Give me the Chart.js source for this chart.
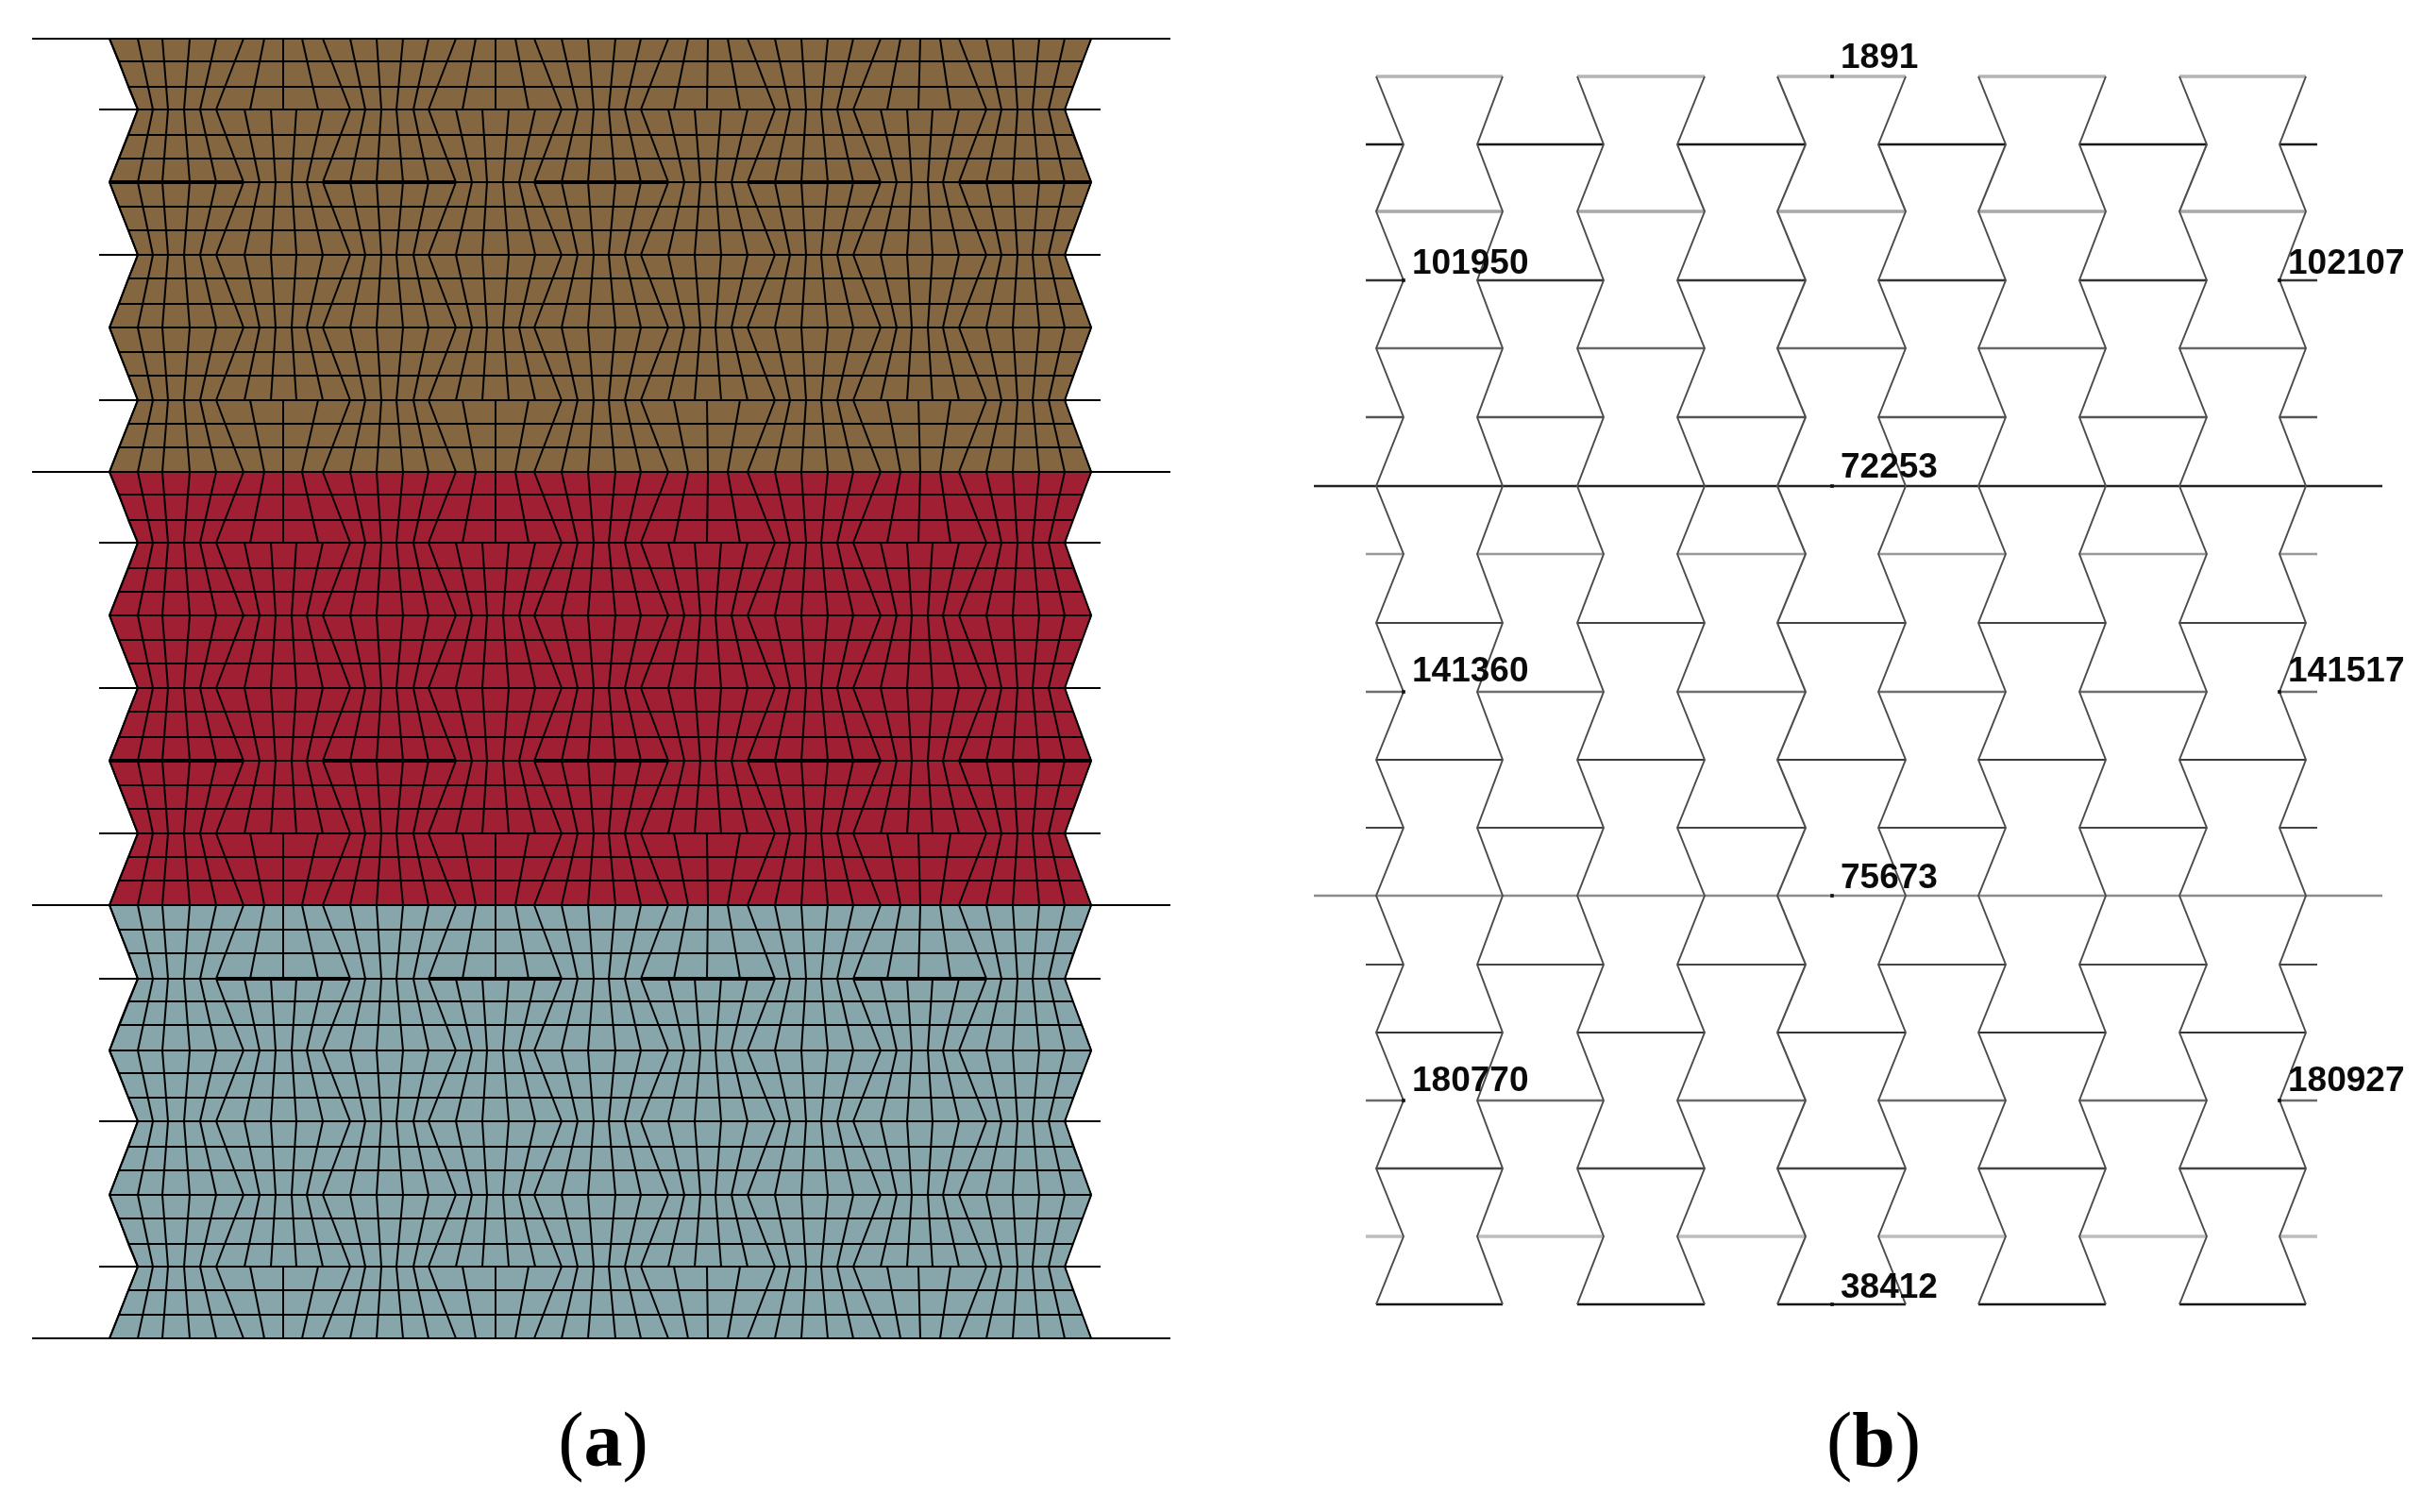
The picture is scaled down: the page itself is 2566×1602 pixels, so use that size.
<!DOCTYPE html>
<html><head><meta charset="utf-8">
<style>html,body{margin:0;padding:0;background:#fff}canvas{display:block}</style>
<script src="https://cdn.jsdelivr.net/npm/chart.js@4/dist/chart.umd.min.js"></script>
</head><body><canvas id="c" width="2566" height="1602" style="width:2566px;height:1602px"></canvas>
<script>
// ---- panel (a) values
const brownRows=[41,65,92,116,143,168,193,219,244,270,295,322,347,373,398,424,449,474,500];
const redRows=[500,524,551,575,602,627,652,678,703,729,754,781,806,832,857,883,908,933,959];
const tealRows=[959,985,1010,1037,1061,1086,1113,1137,1163,1188,1215,1240,1266,1291,1318,1342,1367,1393,1418];
const outlineLeft=[116,126,136,146,136,126,116,126,136,146,136,126,116,126,136,146,136,126,116];
const outlineRight=[1156,1146,1136,1128,1136,1146,1156,1146,1136,1128,1136,1146,1156,1146,1136,1128,1136,1146,1156];
const wideEdge=[116,146,172,201,229,258,275,292,309,325,342,371,399,427,454,483,500,516,533,550,566,595,623,652,679,708,725,742,758,775,792,821,849,877,904,933,950,966,983,999,1016,1045,1073,1101,1128,1156];
const narrowEdge=[146,162,178,195,212,229,259,287,314,342,371,387,404,420,438,454,483,511,539,567,595,612,629,645,662,679,708,736,764,792,821,837,854,870,887,904,933,961,988,1016,1045,1061,1078,1094,1111,1128];
const capEdge=[116,146,172,201,229,258,280,300,320,342,371,399,427,454,483,504,525,546,566,595,623,652,679,708,729,750,771,792,821,849,877,904,933,954,975,996,1016,1045,1073,1101,1128,1156];
const capInner=[146,162,178,195,212,229,265,300,337,371,387,404,420,438,454,490,525,560,595,612,629,645,662,679,714,749,784,821,837,854,870,887,904,940,973,1007,1045,1061,1078,1094,1111,1128];
const wideSections=[[116,258],[342,483],[566,708],[792,933],[1016,1156]];
const narrowSections=[[229,371],[454,595],[679,821],[904,1045]];
const layerColors=['#846640','#A01F33','#86A6AB'];
const longTickX=[[34,116],[1156,1240]];
const shortTickX=[[105,146],[1128,1166]];

// ---- panel (b) values
const cellRows=[81,153,224,297,369,442,515,587,660,733,805,877,949,1022,1094,1166,1238,1310,1382];
const rowColors=['#b4b4b4','#161616','#a8a8a8','#333333','#666666','#555555','#222222','#999999','#444444','#707070','#3a3a3a','#444444','#8c8c8c','#444444','#333333','#6a6a6a','#444444','#bdbdbd','#151515'];
const rowWidths=[3.5,2.5,3.5,2.5,2.5,2.5,2.5,2.5,2,2.5,2,2,2.5,2,2,2.5,2.5,3.5,2.5];
const wideLeft=[1458,1671,1883,2096,2309];
const wideRight=[1592,1806,2019,2231,2443];
const waistLeft=[1487,1699,1913,2125,2338];
const waistRight=[1565,1777,1990,2203,2415];
const fullLineX=[1392,2524];
const fullRows=[515,949];
const waistTickX=[[1447,1487],[2415,2455]];
const nodeX=[1941,1941,1941,1941,1487,2415,1487,2415,1487,2415];
const nodeY=[81,515,949,1382,297,297,733,733,1166,1166];
const nodeLabels=['1891','72253','75673','38412','101950','102107','141360','141517','180770','180927'];
const nodeLabelX=[1950,1950,1950,1950,1496,2424,1496,2424,1496,2424];
const nodeLabelY=[72,506,941,1375,290,290,722,722,1156,1156];
const captionLetters=['a','b'];
const captionCentreX=[639,1985];

const GAP={x:null,y:null};
function seg(list,x1,y1,x2,y2){list.push({x:x1,y:y1},{x:x2,y:y2},GAP);}
function lineDs(data,color,width,extra){return Object.assign({type:'line',data,borderColor:color,borderWidth:width,pointRadius:0,fill:false,tension:0,spanGaps:false,borderCapStyle:'butt',borderJoinStyle:'round'},extra||{});}

const datasets=[];
// (a) mesh
const mesh=[],thick=[],ticks=[];
const blocks=[[capEdge,capInner],[narrowEdge,wideEdge],[wideEdge,narrowEdge],[narrowEdge,wideEdge],[wideEdge,narrowEdge],[capInner,capEdge]];
[brownRows,redRows,tealRows].forEach(rows=>{
  rows.forEach((y,i)=>seg(mesh,outlineLeft[i],y,outlineRight[i],y));
  blocks.forEach((b,n)=>{
    const y1=rows[n*3],y2=rows[n*3+3];
    b[0].forEach((x,j)=>seg(mesh,x,y1,b[1][j],y2));
  });
  [3,9,15].forEach(i=>shortTickX.forEach(t=>seg(ticks,t[0],rows[i],t[1],rows[i])));
  [0,18].forEach(i=>longTickX.forEach(t=>seg(ticks,t[0],rows[i],t[1],rows[i])));
});
wideSections.forEach(s=>{seg(thick,s[0],brownRows[6],s[1],brownRows[6]);seg(thick,s[0],redRows[12],s[1],redRows[12]);});
narrowSections.forEach(s=>seg(thick,s[0],tealRows[3],s[1],tealRows[3]));
datasets.push(lineDs(thick,'#000',4),lineDs(ticks,'#000',2),lineDs(mesh,'#000',2));

// (b) zigzag outlines
const zig=[];
wideLeft.forEach((_,h)=>{
  cellRows.forEach((y,i)=>zig.push({x:i%2?waistLeft[h]:wideLeft[h],y}));zig.push(GAP);
  cellRows.forEach((y,i)=>zig.push({x:i%2?waistRight[h]:wideRight[h],y}));zig.push(GAP);
});
// (b) nodes
datasets.push(lineDs(nodeX.map((x,i)=>({x,y:nodeY[i]})),'#000',0,{showLine:false,pointRadius:2.6,pointStyle:'rect',pointBackgroundColor:'#111',pointBorderWidth:0}));
datasets.push(lineDs(zig,'#4d4d4d',2));
// (b) horizontals
cellRows.forEach((y,i)=>{
  const d=[];
  if(fullRows.includes(y)){seg(d,fullLineX[0],y,fullLineX[1],y);}
  else if(i%2===0){wideLeft.forEach((x,h)=>seg(d,x,y,wideRight[h],y));}
  else{
    waistTickX.forEach(t=>seg(d,t[0],y,t[1],y));
    waistRight.slice(0,4).forEach((x,h)=>seg(d,x,y,waistLeft[h+1],y));
  }
  datasets.push(lineDs(d,rowColors[i],rowWidths[i]));
});
// (a) filled layers come last: Chart.js paints the last dataset first
[brownRows,redRows,tealRows].forEach((rows,k)=>{
  const left=rows.map((y,i)=>({x:outlineLeft[i],y}));
  const right=rows.map((y,i)=>({x:outlineRight[i],y}));
  datasets.push(lineDs(left,'#000',2,{fill:{target:'+1',above:layerColors[k],below:layerColors[k]}}));
  datasets.push(lineDs(right,'#000',2));
});

const textPlugin={id:'texts',afterDatasetsDraw(chart){
  const {ctx,scales:{x,y}}=chart;
  ctx.save();ctx.textAlign='left';ctx.textBaseline='alphabetic';ctx.fillStyle='#0a0a0a';
  ctx.font='bold 37px "Liberation Sans"';
  nodeLabels.forEach((t,i)=>ctx.fillText(t,x.getPixelForValue(nodeLabelX[i]),y.getPixelForValue(nodeLabelY[i])));
  ctx.fillStyle='#000';
  const b=y.getPixelForValue(1553);
  captionLetters.forEach((l,i)=>{
    ctx.font='82px "Liberation Serif"';const pw=ctx.measureText('(').width,rw=ctx.measureText(')').width;
    ctx.font='bold 82px "Liberation Serif"';const lw=ctx.measureText(l).width;
    const sx=x.getPixelForValue(captionCentreX[i])-(pw+lw+rw)/2;
    ctx.font='82px "Liberation Serif"';ctx.fillText('(',sx,b);ctx.fillText(')',sx+pw+lw,b);
    ctx.font='bold 82px "Liberation Serif"';ctx.fillText(l,sx+pw,b);
  });
  ctx.restore();
}};

new Chart(document.getElementById('c'),{
  type:'line',
  data:{datasets},
  plugins:[textPlugin],
  options:{
    indexAxis:'y',responsive:false,animation:false,devicePixelRatio:1,
    layout:{padding:0,autoPadding:false},
    parsing:{xAxisKey:'x',yAxisKey:'y'},
    plugins:{legend:{display:false},tooltip:{enabled:false},title:{display:false}},
    events:[],
    scales:{
      x:{type:'linear',min:0,max:2566,display:false},
      y:{type:'linear',min:0,max:1602,reverse:true,display:false}
    }
  }
});
</script></body></html>
